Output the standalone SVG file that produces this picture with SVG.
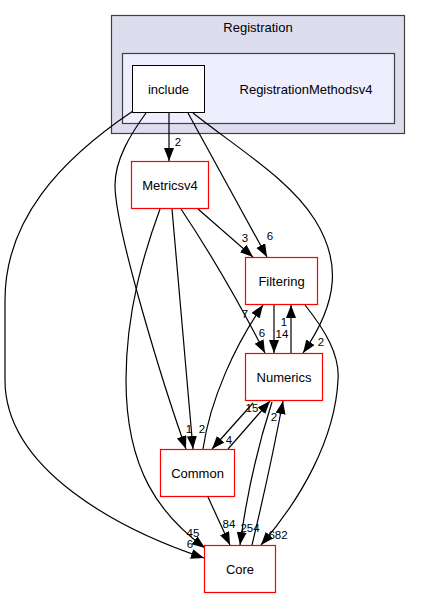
<svg xmlns="http://www.w3.org/2000/svg" width="421" height="599" viewBox="0 0 421 599">
<defs>
<style>
.cl1{fill:#ddddee;stroke:#404040;stroke-width:1.2}
.cl2{fill:#eeeeff;stroke:#404040;stroke-width:1.2}
.nd{fill:#ffffff;stroke:#ff0000;stroke-width:1.2}
.nb{fill:#ffffff;stroke:#000000;stroke-width:1}
text{font-family:"Liberation Sans",Arial,sans-serif;fill:#000}
.nl{font-size:13px;text-anchor:middle}
.el{font-size:11.5px;text-anchor:middle}
.e{fill:none;stroke:#000;stroke-width:1.2;marker-end:url(#ah)}
</style>
<marker id="ah" markerUnits="userSpaceOnUse" markerWidth="14" markerHeight="11" refX="13" refY="5" orient="auto">
<path d="M0,0 L13,5 L0,10 z" fill="#000"/>
</marker>
</defs>
<rect width="421" height="599" fill="#fff"/>
<g id="cluster-Registration">
<rect class="cl1" x="111.5" y="15.5" width="293" height="118"/>
<text class="nl" x="258" y="32">Registration</text>
</g>
<g id="cluster-RegistrationMethodsv4">
<rect class="cl2" x="122.5" y="53.5" width="272" height="70"/>
<text class="nl" x="306" y="94">RegistrationMethodsv4</text>
</g>
<g id="connectors">
<path class="e" d="M133,111 C60,160 5,220 5,300 L5,380 C5,470 120,530 204,558"/>
<text class="el" x="190" y="548">6</text>
<path class="e" d="M160,209 C145,250 126,310 126,380 C126,470 160,515 205,548"/>
<text class="el" x="193" y="537">45</text>
<path class="e" d="M146,113 C130,135 115,160 115,185 C115,230 165,390 186,449"/>
<text class="el" x="189" y="433">1</text>
<path class="e" d="M172,209 L193,449"/>
<text class="el" x="202" y="433">2</text>
<path class="e" d="M169,113 L169,161"/>
<text class="el" x="178" y="146">2</text>
<path class="e" d="M188,113 L267,257"/>
<text class="el" x="270" y="240">6</text>
<path class="e" d="M198,209 L253,257"/>
<text class="el" x="245" y="242">3</text>
<path class="e" d="M193,113 C240,150 290,180 315,220 C340,260 340,300 303,353"/>
<text class="el" x="321" y="346">2</text>
<path class="e" d="M181,209 Q225,275 265,353"/>
<text class="el" x="262" y="337">6</text>
<path class="e" d="M274,305 L274,353"/>
<text class="el" x="282" y="338">14</text>
<path class="e" d="M291,353 L291,305"/>
<text class="el" x="284" y="326">1</text>
<path class="e" d="M203,449 C210,400 235,345 263,305"/>
<text class="el" x="245" y="318">7</text>
<path class="e" d="M228,449 L270,401"/>
<text class="el" x="252" y="412">15</text>
<path class="e" d="M253,403 L212,449"/>
<text class="el" x="229" y="444">4</text>
<path class="e" d="M208,497 L230,545"/>
<text class="el" x="229" y="528">84</text>
<path class="e" d="M272,402 Q250,470 240,545"/>
<text class="el" x="250" y="532">254</text>
<path class="e" d="M252,545 Q270,470 283,401"/>
<text class="el" x="274" y="421">2</text>
<path class="e" d="M305,305 C325,330 340,355 338,380 C335,440 300,500 261,545"/>
<text class="el" x="278" y="539">682</text>
</g>
<g id="node-include">
<rect class="nb" x="132.5" y="65.5" width="72" height="47"/>
<text class="nl" x="168.5" y="94">include</text>
</g>
<g id="node-Metricsv4">
<rect class="nd" x="131.5" y="161.5" width="77" height="47"/>
<text class="nl" x="170" y="190">Metricsv4</text>
</g>
<g id="node-Filtering">
<rect class="nd" x="245.5" y="257.5" width="72" height="47"/>
<text class="nl" x="281.5" y="286">Filtering</text>
</g>
<g id="node-Numerics">
<rect class="nd" x="245.5" y="353.5" width="77" height="47"/>
<text class="nl" x="284" y="382">Numerics</text>
</g>
<g id="node-Common">
<rect class="nd" x="160.5" y="449.5" width="74" height="47"/>
<text class="nl" x="197.5" y="478">Common</text>
</g>
<g id="node-Core">
<rect class="nd" x="204.5" y="545.5" width="71" height="47"/>
<text class="nl" x="240" y="574">Core</text>
</g>
</svg>
